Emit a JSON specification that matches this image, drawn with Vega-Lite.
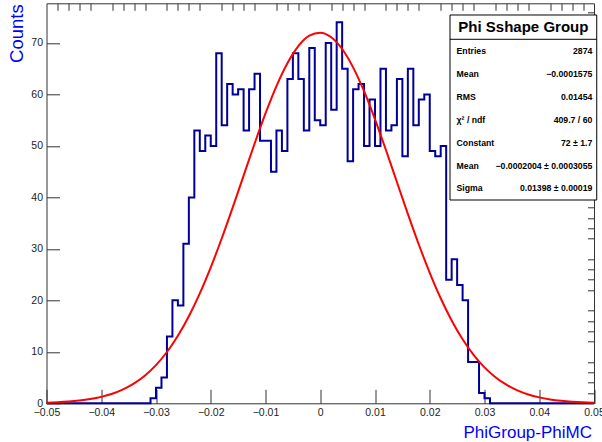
{
  "$schema": "https://vega.github.io/schema/vega-lite/v6.json",
  "width": 547.5,
  "height": 400,
  "autosize": "none",
  "padding": {"left": 46.5, "top": 3.3, "right": 8, "bottom": 38.7},
  "background": "white",
  "config": {
    "font": "Liberation Sans",
    "view": {"stroke": "#333", "strokeWidth": 1}
  },
  "datasets": {
    "hist": [
      {"lo":-0.050,"n":0},{"lo":-0.049,"n":0},{"lo":-0.048,"n":0},{"lo":-0.047,"n":0},{"lo":-0.046,"n":0},
      {"lo":-0.045,"n":0},{"lo":-0.044,"n":0},{"lo":-0.043,"n":0},{"lo":-0.042,"n":0},{"lo":-0.041,"n":0},
      {"lo":-0.040,"n":0},{"lo":-0.039,"n":0},{"lo":-0.038,"n":0},{"lo":-0.037,"n":0},{"lo":-0.036,"n":0},
      {"lo":-0.035,"n":0},{"lo":-0.034,"n":0},{"lo":-0.033,"n":0},{"lo":-0.032,"n":0},{"lo":-0.031,"n":1},
      {"lo":-0.030,"n":3},{"lo":-0.029,"n":5},{"lo":-0.028,"n":13},{"lo":-0.027,"n":20},{"lo":-0.026,"n":19},
      {"lo":-0.025,"n":31},{"lo":-0.024,"n":40},{"lo":-0.023,"n":53},{"lo":-0.022,"n":49},{"lo":-0.021,"n":52},
      {"lo":-0.020,"n":50},{"lo":-0.019,"n":68},{"lo":-0.018,"n":54},{"lo":-0.017,"n":62},{"lo":-0.016,"n":60},
      {"lo":-0.015,"n":61},{"lo":-0.014,"n":53},{"lo":-0.013,"n":61},{"lo":-0.012,"n":64},{"lo":-0.011,"n":51},
      {"lo":-0.010,"n":51},{"lo":-0.009,"n":45},{"lo":-0.008,"n":53},{"lo":-0.007,"n":49},{"lo":-0.006,"n":63},
      {"lo":-0.005,"n":68},{"lo":-0.004,"n":63},{"lo":-0.003,"n":53},{"lo":-0.002,"n":69},{"lo":-0.001,"n":55},
      {"lo":0.000,"n":54},{"lo":0.001,"n":70},{"lo":0.002,"n":57},{"lo":0.003,"n":74},{"lo":0.004,"n":65},
      {"lo":0.005,"n":47},{"lo":0.006,"n":61},{"lo":0.007,"n":62},{"lo":0.008,"n":50},{"lo":0.009,"n":59},
      {"lo":0.010,"n":50},{"lo":0.011,"n":65},{"lo":0.012,"n":53},{"lo":0.013,"n":54},{"lo":0.014,"n":63},
      {"lo":0.015,"n":48},{"lo":0.016,"n":65},{"lo":0.017,"n":54},{"lo":0.018,"n":59},{"lo":0.019,"n":60},
      {"lo":0.020,"n":49},{"lo":0.021,"n":48},{"lo":0.022,"n":50},{"lo":0.023,"n":24},{"lo":0.024,"n":28},
      {"lo":0.025,"n":23},{"lo":0.026,"n":20},{"lo":0.027,"n":8},{"lo":0.028,"n":8},{"lo":0.029,"n":2},
      {"lo":0.030,"n":1},{"lo":0.031,"n":0},{"lo":0.032,"n":0},{"lo":0.033,"n":0},{"lo":0.034,"n":0},
      {"lo":0.035,"n":0},{"lo":0.036,"n":0},{"lo":0.037,"n":0},{"lo":0.038,"n":0},{"lo":0.039,"n":0},
      {"lo":0.040,"n":0},{"lo":0.041,"n":0},{"lo":0.042,"n":0},{"lo":0.043,"n":0},{"lo":0.044,"n":0},
      {"lo":0.045,"n":0},{"lo":0.046,"n":0},{"lo":0.047,"n":0},{"lo":0.048,"n":0},{"lo":0.049,"n":0},
      {"lo":0.050,"n":0}
    ],
    "fit": [
      {"x":-0.050,"f":0.126},{"x":-0.048,"f":0.208},{"x":-0.046,"f":0.336},{"x":-0.044,"f":0.532},{"x":-0.042,"f":0.824},
      {"x":-0.040,"f":1.252},{"x":-0.038,"f":1.861},{"x":-0.036,"f":2.712},{"x":-0.034,"f":3.873},{"x":-0.032,"f":5.417},
      {"x":-0.030,"f":7.425},{"x":-0.028,"f":9.969},{"x":-0.026,"f":13.115},{"x":-0.024,"f":16.904},{"x":-0.022,"f":21.346},
      {"x":-0.020,"f":26.41},{"x":-0.018,"f":32.01},{"x":-0.016,"f":38.01},{"x":-0.014,"f":44.23},{"x":-0.012,"f":50.42},
      {"x":-0.010,"f":56.31},{"x":-0.008,"f":61.62},{"x":-0.006,"f":66.06},{"x":-0.004,"f":69.39},{"x":-0.002,"f":71.41},
      {"x":0.000,"f":71.99},{"x":0.002,"f":71.11},{"x":0.004,"f":68.82},{"x":0.006,"f":65.26},{"x":0.008,"f":60.62},
      {"x":0.010,"f":55.17},{"x":0.012,"f":49.2},{"x":0.014,"f":42.98},{"x":0.016,"f":36.79},{"x":0.018,"f":30.85},
      {"x":0.020,"f":25.35},{"x":0.022,"f":20.4},{"x":0.024,"f":16.09},{"x":0.026,"f":12.43},{"x":0.028,"f":9.413},
      {"x":0.030,"f":6.981},{"x":0.032,"f":5.072},{"x":0.034,"f":3.611},{"x":0.036,"f":2.52},{"x":0.038,"f":1.722},
      {"x":0.040,"f":1.153},{"x":0.042,"f":0.756},{"x":0.044,"f":0.486},{"x":0.046,"f":0.306},{"x":0.048,"f":0.189},
      {"x":0.050,"f":0.114}
    ],
    "stats": [
      {"row":0,"label":"Entries","value":"2874"},
      {"row":1,"label":"Mean","value":"\u22120.0001575"},
      {"row":2,"label":"RMS","value":"0.01454"},
      {"row":3,"label":"\u03c7\u00b2 / ndf","value":"409.7 / 60"},
      {"row":4,"label":"Constant","value":"72 \u00b1 1.7"},
      {"row":5,"label":"Mean","value":"\u22120.0002004 \u00b1 0.0003055"},
      {"row":6,"label":"Sigma","value":"0.01398 \u00b1 0.00019"}
    ]
  },
  "layer": [
    {
      "layer": [
        {
          "data": {"name": "hist"},
          "mark": {"type": "line", "interpolate": "step-after", "color": "#000099", "strokeWidth": 2},
          "encoding": {
            "x": {
              "field": "lo", "type": "quantitative",
              "scale": {"domain": [-0.05, 0.05], "nice": false, "zero": false},
              "axis": {
                "values": [-0.05, -0.04, -0.03, -0.02, -0.01, 0, 0.01, 0.02, 0.03, 0.04, 0.05],
                "format": ".2~f", "domain": false, "grid": false,
                "tickSize": -14, "tickColor": "#333", "tickWidth": 1,
                "labelPadding": 18.5, "labelFontSize": 10.5, "labelColor": "#222",
                "labelFlush": false, "labelOverlap": false,
                "title": "PhiGroup-PhiMC", "titleFontSize": 17, "titleFontWeight": "normal",
                "titleColor": "#0000ff", "titleAlign": "right", "titleAnchor": "end",
                "titleBaseline": "alphabetic", "titleX": 545, "titleY": 34
              }
            },
            "y": {
              "field": "n", "type": "quantitative",
              "scale": {"domain": [0, 77.7], "nice": false, "zero": false},
              "axis": {
                "values": [0, 10, 20, 30, 40, 50, 60, 70],
                "domain": false, "grid": false,
                "tickSize": -13, "tickColor": "#333", "tickWidth": 1,
                "labelPadding": 17, "labelFontSize": 10.5, "labelColor": "#222",
                "labelFlush": false, "labelOverlap": false,
                "title": "Counts", "titleFontSize": 18.5, "titleFontWeight": "normal",
                "titleColor": "#0000ff", "titleAngle": 270, "titleAlign": "right",
                "titleBaseline": "alphabetic", "titleX": -24, "titleY": 0.5
              }
            }
          }
        },
        {
          "data": {"name": "fit"},
          "mark": {"type": "line", "interpolate": "monotone", "color": "#ff0000", "strokeWidth": 2},
          "encoding": {
            "x": {
              "field": "x", "type": "quantitative",
              "scale": {"domain": [-0.05, 0.05], "nice": false, "zero": false},
              "axis": {
                "values": [-0.048,-0.046,-0.044,-0.042,-0.038,-0.036,-0.034,-0.032,-0.028,-0.026,-0.024,-0.022,-0.018,-0.016,-0.014,-0.012,-0.008,-0.006,-0.004,-0.002,0.002,0.004,0.006,0.008,0.012,0.014,0.016,0.018,0.022,0.024,0.026,0.028,0.032,0.034,0.036,0.038,0.042,0.044,0.046,0.048],
                "labels": false, "domain": false, "grid": false, "title": null,
                "tickSize": -7, "tickColor": "#333", "tickWidth": 1
              }
            },
            "y": {
              "field": "f", "type": "quantitative",
              "scale": {"domain": [0, 77.7], "nice": false, "zero": false},
              "axis": {
                "values": [2,4,6,8,12,14,16,18,22,24,26,28,32,34,36,38,42,44,46,48,52,54,56,58,62,64,66,68,72,74,76],
                "labels": false, "domain": false, "grid": false, "title": null,
                "tickSize": -6.5, "tickColor": "#333", "tickWidth": 1
              }
            }
          }
        },
        {
          "data": {"values": [{}]},
          "mark": {"type": "rect", "fill": "white", "stroke": "#000", "strokeWidth": 1},
          "encoding": {
            "x": {"datum": 0.0237, "type": "quantitative", "axis": null},
            "x2": {"datum": 0.0505},
            "y": {"datum": 75.43, "type": "quantitative", "axis": null},
            "y2": {"datum": 39.49}
          }
        },
        {
          "data": {"values": [{}]},
          "mark": {"type": "rule", "stroke": "#000", "strokeWidth": 1},
          "encoding": {
            "x": {"datum": 0.0237, "type": "quantitative", "axis": null},
            "x2": {"datum": 0.0505},
            "y": {"datum": 70.71, "type": "quantitative", "axis": null}
          }
        },
        {
          "data": {"values": [{"t": "Phi Sshape Group"}]},
          "mark": {"type": "text", "font": "Liberation Sans", "fontSize": 15, "fontWeight": "bold", "align": "center", "baseline": "middle", "color": "#000"},
          "encoding": {
            "x": {"datum": 0.0371, "type": "quantitative", "axis": null},
            "y": {"datum": 73.1, "type": "quantitative", "axis": null},
            "text": {"field": "t"}
          }
        }
      ],
      "resolve": {"axis": {"x": "independent", "y": "independent"}}
    },
    {
      "data": {"name": "stats"},
      "layer": [
        {
          "mark": {"type": "text", "font": "Liberation Sans", "fontSize": 8.7, "fontWeight": "bold", "align": "left", "baseline": "middle", "color": "#000"},
          "encoding": {
            "x": {"datum": 0.0249, "type": "quantitative", "axis": null},
            "y": {"field": "row", "type": "quantitative", "scale": {"domain": [-2.083, 15.384], "reverse": true, "nice": false, "zero": false}, "axis": null},
            "text": {"field": "label"}
          }
        },
        {
          "mark": {"type": "text", "font": "Liberation Sans", "fontSize": 8.7, "fontWeight": "bold", "align": "right", "baseline": "middle", "color": "#000"},
          "encoding": {
            "x": {"datum": 0.0497, "type": "quantitative", "axis": null},
            "y": {"field": "row", "type": "quantitative", "scale": {"domain": [-2.083, 15.384], "reverse": true, "nice": false, "zero": false}, "axis": null},
            "text": {"field": "value"}
          }
        }
      ]
    }
  ],
  "resolve": {"scale": {"y": "independent"}, "axis": {"x": "independent", "y": "independent"}}
}
